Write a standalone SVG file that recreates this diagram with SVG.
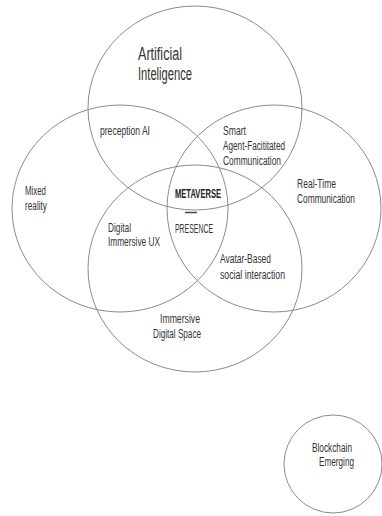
<svg xmlns="http://www.w3.org/2000/svg" width="382" height="516" viewBox="0 0 382 516">
<style>
.c{fill:none;stroke:#8a8a8a;stroke-width:1}
text{font-family:"Liberation Sans Narrow","Liberation Sans",Arial,sans-serif;fill:#333;font-size:12px}
.big{font-size:18px}
.b{font-weight:bold;fill:#222}
</style>
<rect width="382" height="516" fill="#fff"/>
<g id="ai">
<ellipse class="c" cx="195" cy="108" rx="107" ry="102"/>
<text class="big" x="138" y="60" textLength="44" lengthAdjust="spacingAndGlyphs">Artificial</text>
<text class="big" x="138" y="80" textLength="54" lengthAdjust="spacingAndGlyphs">Inteligence</text>
</g>
<g id="mixed">
<ellipse class="c" cx="120" cy="208.5" rx="108" ry="103.5"/>
<text x="25" y="195" textLength="21" lengthAdjust="spacingAndGlyphs">Mixed</text>
<text x="25" y="210" textLength="22" lengthAdjust="spacingAndGlyphs">reality</text>
</g>
<g id="realtime">
<ellipse class="c" cx="274" cy="208.5" rx="107" ry="103.5"/>
<text x="297" y="188" textLength="39" lengthAdjust="spacingAndGlyphs">Real-Time</text>
<text x="297" y="203" textLength="58" lengthAdjust="spacingAndGlyphs">Communication</text>
</g>
<g id="immersive">
<ellipse class="c" cx="195" cy="268.5" rx="107" ry="103.5"/>
<text x="160" y="323" textLength="40" lengthAdjust="spacingAndGlyphs">Immersive</text>
<text x="153" y="338" textLength="48" lengthAdjust="spacingAndGlyphs">Digital Space</text>
</g>
<g id="perception">
<text x="100" y="135" textLength="50" lengthAdjust="spacingAndGlyphs">preception AI</text>
</g>
<g id="smart">
<text x="223" y="135" textLength="23" lengthAdjust="spacingAndGlyphs">Smart</text>
<text x="223" y="150" textLength="62" lengthAdjust="spacingAndGlyphs">Agent-Facititated</text>
<text x="223" y="165" textLength="58" lengthAdjust="spacingAndGlyphs">Communication</text>
</g>
<g id="metaverse">
<text class="b" x="175" y="198" textLength="46" lengthAdjust="spacingAndGlyphs">METAVERSE</text>
<line x1="185" y1="212.5" x2="197" y2="212.5" stroke="#444" stroke-width="1.5"/>
<text x="175" y="233" textLength="38" lengthAdjust="spacingAndGlyphs">PRESENCE</text>
</g>
<g id="digitalux">
<text x="108" y="232" textLength="23" lengthAdjust="spacingAndGlyphs">Digital</text>
<text x="108" y="246" textLength="52" lengthAdjust="spacingAndGlyphs">Immersive UX</text>
</g>
<g id="avatar">
<text x="220" y="263" textLength="51" lengthAdjust="spacingAndGlyphs">Avatar-Based</text>
<text x="220" y="279" textLength="65" lengthAdjust="spacingAndGlyphs">social interaction</text>
</g>
<g id="blockchain">
<circle class="c" cx="333" cy="464" r="49"/>
<text x="312" y="452" textLength="40" lengthAdjust="spacingAndGlyphs">Blockchain</text>
<text x="319" y="466" textLength="35" lengthAdjust="spacingAndGlyphs">Emerging</text>
</g>
<g id="connectors"></g>
</svg>
